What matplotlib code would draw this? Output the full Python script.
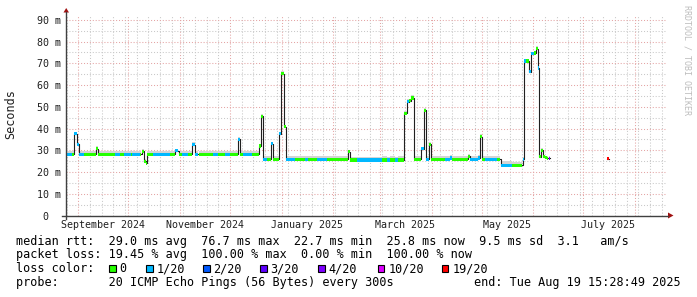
import datetime as dt
import numpy as np
import matplotlib
matplotlib.use("Agg")
import matplotlib.pyplot as plt
import matplotlib.dates as mdates
from matplotlib.lines import Line2D
from matplotlib.patches import Polygon, Rectangle

# smokeping style "last 360 days" graph
W, H = 697, 297
MONO = "DejaVu Sans Mono"
FS = 8.5      # legend text
FS_AX = 7.2   # axis labels

graph_end = dt.datetime(2025, 8, 19, 15, 28, 49)
graph_days = 360

# median rtt: start day (from graph start), ms, loss bucket, smoke top ms
seg_day = [0.0, 3.6, 5.0, 6.6, 7.6, 10.6, 17.7, 19.2, 29.4, 32.4, 34.8, 39.0, 39.6, 44.4,
           45.3, 46.8, 47.7, 48.8, 52.2, 62.4, 65.4, 67.5, 69.6, 73.2, 75.8, 77.4, 79.5,
           88.2, 91.2, 95.4, 98.4, 103.0, 104.4, 106.2, 111.6, 115.8, 117.0, 118.4, 120.4,
           123.0, 124.4, 127.8, 129.0, 131.0, 132.2, 137.4, 143.4, 145.2, 150.4, 156.4,
           169.0, 170.4, 174.6, 189.6, 192.6, 194.4, 197.4, 199.2, 203.0, 204.4, 205.8,
           207.2, 208.6, 213.0, 214.8, 216.0, 217.8, 219.2, 227.4, 230.4, 231.6, 241.4,
           242.4, 247.4, 248.1, 249.6, 251.4, 258.6, 260.7, 267.6, 273.9, 275.0, 276.0,
           277.8, 279.2, 280.6, 281.8, 283.0, 284.0, 285.0, 286.4, 287.4, 288.8, 289.5,
           290.4, 324.3, 325.5]
seg_rtt = [28.2, 28.2, 37.7, 32.8, 28.2, 28.2, 30.8, 28.2, 28.2, 28.2, 28.2, 28.2, 28.2, 28.2,
           29.5, 25.0, 24.0, 28.2, 28.2, 28.2, 29.8, 28.2, 28.2, 28.2, 32.5, 28.2, 28.2,
           28.2, 28.2, 28.2, 28.2, 35.0, 28.2, 28.2, 28.2, 32.0, 45.7, 25.8, 25.8,
           33.0, 25.8, 37.7, 65.3, 40.8, 25.8, 25.8, 25.8, 25.8, 25.8, 25.8,
           29.3, 25.5, 25.5, 25.5, 25.5, 25.5, 25.5, 25.5, 47.0, 52.3, 52.8,
           54.1, 25.8, 30.8, 48.4, 25.8, 32.7, 25.8, 25.8, 26.5, 25.8, 27.2,
           25.8, 26.5, 36.2, 25.8, 25.8, 25.8, 23.1, 23.1, 25.8, 71.1, 71.1,
           66.1, 74.5, 74.8, 76.8, 67.9, 27.0, 30.0, 27.0, 26.6, 26.3, 26.3,
           np.nan, 26.2, np.nan]
seg_loss = [1, 0, 1, 1, 1, 0, 0, 0, 1, 0, 1, 0, 1, 0,
            0, 0, 0, 0, 1, 0, 1, 0, 1, 0, 1, 1, 0,
            1, 0, 1, 0, 1, 0, 1, 0, 0, 0, 1, 0,
            1, 0, 1, 0, 0, 1, 0, 1, 0, 1, 0,
            0, 0, 1, 0, 1, 0, 1, 0, 0, 1, 0,
            0, 0, 1, 0, 1, 0, 0, 1, 1, 0, 0,
            1, 1, 0, 0, 1, 0, 1, 0, 1, 1, 0,
            1, 1, 0, 0, 1, 0, 0, 0, 0, 0, 4,
            0, 6, 0]
seg_smoke = [29.8, 29.8, 38.6, 33.6, 29.8, 29.9, 31.8, 29.8, 29.7, 29.8, 29.8, 29.8, 29.8, 29.9,
             30.4, 25.8, 24.8, 29.6, 29.8, 29.6, 30.6, 29.6, 29.8, 29.6, 33.6, 29.8, 29.6,
             29.6, 29.8, 29.6, 29.6, 35.9, 29.6, 29.6, 29.6, 32.8, 46.8, 27.6, 27.4,
             34.0, 27.4, 38.4, 66.6, 41.6, 27.6, 27.6, 27.6, 27.4, 27.6, 27.4,
             30.2, 27.0, 27.0, 27.2, 27.0, 27.2, 27.0, 27.2, 48.0, 53.4, 53.8,
             55.2, 27.4, 31.6, 49.4, 27.4, 33.6, 27.4, 27.4, 27.8, 27.4, 28.2,
             27.4, 27.6, 37.4, 27.4, 27.6, 27.4, 24.9, 24.8, 26.8, 72.2, 72.0,
             67.0, 75.4, 75.6, 77.8, 68.8, 28.0, 31.0, 28.0, 27.6, 27.4, 27.4,
             np.nan, 26.8, np.nan]

loss_labels = ["0", "1/20", "2/20", "3/20", "4/20", "10/20", "19/20"]
loss_colors = ["#26ff00", "#00b8ff", "#0059ff", "#5e00ff", "#7e00ff", "#dd00ff", "#ff0000"]

label_months = ["2024-09", "2024-11", "2025-01", "2025-03", "2025-05", "2025-07"]

legend_rtt = "median rtt:  29.0 ms avg  76.7 ms max  22.7 ms min  25.8 ms now  9.5 ms sd  3.1   am/s"
legend_loss = "packet loss: 19.45 % avg  100.00 % max  0.00 % min  100.00 % now"
legend_probe = "probe:       20 ICMP Echo Pings (56 Bytes) every 300s"
legend_end = "end: Tue Aug 19 15:28:49 2025"


def fpos(x, y):
    # picture pixels (from top left) -> figure fraction
    return x / W, 1 - y / H


graph_start = graph_end - dt.timedelta(days=graph_days)
edges = [graph_start + dt.timedelta(days=d) for d in seg_day] + [graph_end]
edges = mdates.date2num(edges)
left = edges[:-1]
width = np.diff(edges)
rtt = np.array(seg_rtt)
smoke = np.array(seg_smoke)
loss = np.array(seg_loss)
ok = ~np.isnan(rtt)

fig = plt.figure(figsize=(W / 100, H / 100), dpi=100)
fig.patch.set_facecolor("white")
ax = fig.add_axes([66 / W, (H - 215.5) / H, 600 / W, 200 / H])
ax.set_xlim(edges[0], edges[-1])
ax.set_ylim(0, 92)
for s in ax.spines.values():
    s.set_visible(False)

# grid
ax.xaxis.set_major_locator(mdates.MonthLocator())
ax.xaxis.set_minor_locator(mdates.WeekdayLocator(byweekday=mdates.SU))
ax.yaxis.set_major_locator(matplotlib.ticker.MultipleLocator(10))
ax.yaxis.set_minor_locator(matplotlib.ticker.MultipleLocator(5))
ax.grid(which="major", color="#e4a4a4", linestyle=(0, (1, 1.8)), linewidth=0.75)
ax.grid(which="minor", color="#c8c8c8", linestyle=(0, (1, 1.8)), linewidth=0.75)
ax.set_axisbelow(True)
ax.tick_params(which="both", length=0)
ax.set_xticklabels([])
yt = np.arange(0, 100, 10)
ax.set_yticks(yt)
ax.set_yticklabels([f"{v} m" if v else "0  " for v in yt], family=MONO, fontsize=FS_AX,
                   color="#202020")
ax.tick_params(axis="y", pad=3.3)

# smoke, median line, loss coloured band on top
ax.bar(left[ok], (smoke - rtt)[ok], width[ok], bottom=rtt[ok], align="edge",
       color="#d4d4d4", linewidth=0, zorder=2)
ax.step(edges, np.append(rtt, rtt[-1]), where="post", color="#202020", linewidth=0.8, zorder=3)
half = 0.75
for i, c in enumerate(loss_colors):
    m = ok & (loss == i)
    if m.any():
        ax.bar(left[m], 2 * half, width[m], bottom=rtt[m] - half, align="edge",
               color=c, linewidth=0, zorder=4)

# month labels sit half way into their month, like rrdtool does
for ym in label_months:
    d = dt.datetime.strptime(ym, "%Y-%m")
    x = mdates.date2num(d + dt.timedelta(days=15))
    ax.text(x, -0.049, d.strftime("%B %Y"), transform=ax.get_xaxis_transform(),
            ha="center", va="center", family=MONO, fontsize=FS_AX, color="#202020")

# axes with arrows
axc = "#404040"
arr = "#a01010"
fig.add_artist(Line2D(*zip(fpos(66, 219), fpos(66, 12)), color=axc, lw=1))
fig.add_artist(Line2D(*zip(fpos(62, 215.5), fpos(668, 215.5)), color=axc, lw=1))
fig.add_artist(Polygon([fpos(63.5, 12.5), fpos(69, 12.5), fpos(66.2, 8)], closed=True,
                       transform=fig.transFigure, color=arr, lw=0))
fig.add_artist(Polygon([fpos(668, 212.5), fpos(668, 218.5), fpos(673.5, 215.5)], closed=True,
                       transform=fig.transFigure, color=arr, lw=0))

fig.text(*fpos(10.5, 114), "Seconds", rotation=90, ha="center", va="center",
         family=MONO, fontsize=FS, color="#202020")
fig.text(*fpos(687, 60), "RRDTOOL / TOBI OETIKER", rotation=270, ha="center", va="center",
         family=MONO, fontsize=6, color="#bdbdbd")

# legend block
fig.text(*fpos(16, 241), legend_rtt, ha="left", va="center", family=MONO, fontsize=FS)
fig.text(*fpos(16, 254.7), legend_loss, ha="left", va="center", family=MONO, fontsize=FS)
fig.text(*fpos(16, 268.7), "loss color:", ha="left", va="center", family=MONO, fontsize=FS)
box_x = [109, 146, 203, 260, 318, 378, 442]
for bx, lab, c in zip(box_x, loss_labels, loss_colors):
    x0, y0 = fpos(bx, 271.5)
    fig.add_artist(Rectangle((x0, y0), 6.5 / W, 6.5 / H, transform=fig.transFigure,
                             facecolor=c, edgecolor="black", lw=0.8))
    fig.text(*fpos(bx + 10.5, 268.7), lab, ha="left", va="center", family=MONO, fontsize=FS)
fig.text(*fpos(16, 282.7), legend_probe, ha="left", va="center", family=MONO, fontsize=FS)
fig.text(*fpos(681, 282.7), legend_end, ha="right", va="center", family=MONO, fontsize=FS)

fig.savefig("out.png", dpi=100, facecolor="white")
